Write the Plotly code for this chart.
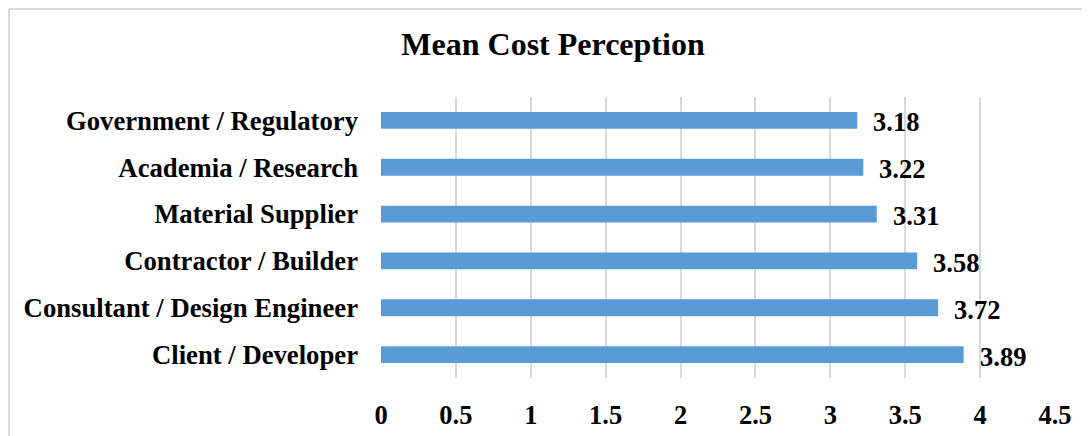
import plotly.graph_objects as go

categories = ["Government / Regulatory", "Academia / Research", "Material Supplier",
              "Contractor / Builder", "Consultant / Design Engineer", "Client / Developer"]
values = [3.18, 3.22, 3.31, 3.58, 3.72, 3.89]
tick_vals = [0, 0.5, 1, 1.5, 2, 2.5, 3, 3.5, 4, 4.5]
tick_text = ["0", "0.5", "1", "1.5", "2", "2.5", "3", "3.5", "4", "4.5"]

FONT = "Liberation Serif"
fig = go.Figure()
fig.add_trace(go.Bar(
    x=values, y=categories, orientation="h",
    marker=dict(color="#5B9BD5", line=dict(width=0)),
    hoverinfo="skip",
))

annotations = []
for c, v in zip(categories, values):
    annotations.append(dict(
        x=v, y=c, xref="x", yref="y", text=f"<b>{v:.2f}</b>", showarrow=False,
        xanchor="left", yanchor="middle", xshift=14, yshift=-2,
        font=dict(family=FONT, size=26.5, color="#000000"),
    ))

fig.update_layout(
    width=1090, height=436,
    margin=dict(l=373, r=43, t=89, b=66),
    paper_bgcolor="white", plot_bgcolor="white",
    bargap=0.64,
    showlegend=False,
    title=dict(text="<b>Mean Cost Perception</b>", x=0.5, xref="container", xanchor="center",
               y=0.918, yref="container", yanchor="middle",
               font=dict(family=FONT, size=32, color="#000000")),
    xaxis=dict(range=[0, 4.5], tickvals=tick_vals, ticktext=[f"<b>{t}</b>" for t in tick_text],
               showgrid=True, gridcolor="#D9D9D9", gridwidth=2, zeroline=False,
               showline=False, ticks="", ticklabelstandoff=18,
               tickfont=dict(family=FONT, size=26.5, color="#000000")),
    yaxis=dict(autorange="reversed", showgrid=False, zeroline=False, showline=False,
               ticks="", ticklabelstandoff=22, tickprefix="<b>", ticksuffix="</b>",
               tickfont=dict(family=FONT, size=26.7, color="#000000")),
    annotations=annotations,
    shapes=[
        dict(type="line", xref="paper", yref="paper", x0=-0.552, x1=1.2, y0=1.3132, y1=1.3132,
             line=dict(color="#D9D9D9", width=2), layer="below"),
        dict(type="line", xref="paper", yref="paper", x0=-0.552, x1=-0.552, y0=1.3132, y1=-0.4,
             line=dict(color="#D9D9D9", width=2), layer="below"),
    ],
)
fig.write_html("out.html")
